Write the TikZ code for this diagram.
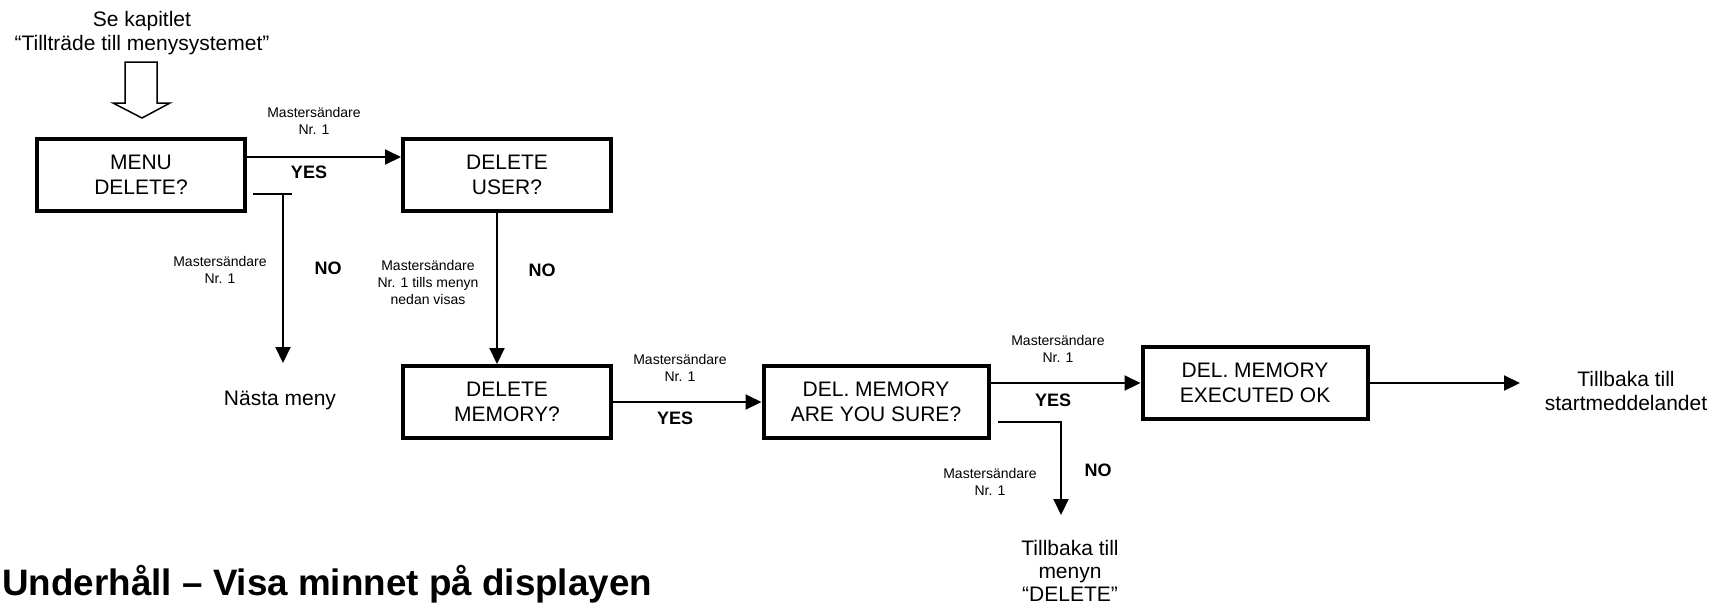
\documentclass[tikz,border=0pt]{standalone}
\usepackage{fontspec}
\setmainfont{Liberation Sans}
\usetikzlibrary{arrows.meta,positioning}

\begin{document}
\begin{tikzpicture}[x=0.5pt,y=-0.5pt]
    \tikzstyle{menu-box}=[rectangle, draw, line width=2pt, minimum width=104pt, minimum height=36pt, inner sep=0pt, align=center, font=\fontsize{10.5}{12.5}\selectfont]
    \tikzstyle{wide-box}=[menu-box, minimum width=112.5pt]
    \tikzstyle{fleche}=[-{Triangle[length=8pt,width=7.5pt]}, line width=1pt]
    \tikzstyle{master}=[align=center, font=\fontsize{7}{8.5}\selectfont]
    \tikzstyle{svar}=[font=\fontsize{9}{10}\selectfont\bfseries]
    \tikzstyle{info}=[align=center, font=\fontsize{10.5}{12}\selectfont]

    \useasboundingbox (0,0) rectangle (1711,607);

    \node[info] (kapitel) at (142,33) {Se kapitlet\\“Tillträde till menysystemet”};
    \draw[line width=0.75pt] (125,62) -- (157,62) -- (157,103) -- (170,103) -- (142,118) -- (113,103) -- (125,103) -- cycle;

    \node[menu-box] (menu-delete) at (141,175) {MENU\\DELETE?};
    \node[menu-box] (delete-user) at (507,175) {DELETE\\USER?};
    \node[menu-box] (delete-memory) at (507,402) {DELETE\\MEMORY?};
    \node[wide-box] (are-you-sure) at (876,402) {DEL. MEMORY\\ARE YOU SURE?};
    \node[wide-box] (executed-ok) at (1255,383) {DEL. MEMORY\\EXECUTED OK};

    \node[info] (nasta) at (280,400) {Nästa meny};
    \node[info] (tillbaka-start) at (1626,391) {Tillbaka till\\startmeddelandet};
    \node[info, font=\fontsize{10.5}{11.5}\selectfont] (tillbaka-meny) at (1070,571) {Tillbaka till\\menyn\\“DELETE”};
    \coordinate (nasta-hook) at (283,194);
    \coordinate (nasta-end) at (283,363);
    \coordinate (sure-no-end) at (1061,515);
    \coordinate (start-end) at (1520,383);

    \draw[fleche] ([yshift=9pt]menu-delete.east) -- ([yshift=9pt]delete-user.west);
    \draw[line width=1pt] ([xshift=3pt,yshift=-9.5pt]menu-delete.east) -- ++(19.5pt,0);
    \draw[fleche] (nasta-hook) -- (nasta-end);
    \draw[fleche] ([xshift=-5pt]delete-user.south) -- ([xshift=-5pt]delete-memory.north);
    \draw[fleche] (delete-memory.east) -- (are-you-sure.west);
    \draw[fleche] (are-you-sure.east |- executed-ok) -- (executed-ok.west);
    \draw[fleche] ([xshift=3.5pt,yshift=-10pt]are-you-sure.east) -| (sure-no-end);
    \draw[fleche] (executed-ok.east) -- (start-end);

    \node[master] (m-user) at (314,121) {Mastersändare\\Nr. 1};
    \node[svar] (yes-user) at (309,172) {YES};
    \node[master] (m-nasta) at (220,270) {Mastersändare\\Nr. 1};
    \node[svar] (no-nasta) at (328,268) {NO};
    \node[master] (m-memory) at (428,282) {Mastersändare\\Nr. 1 tills menyn\\nedan visas};
    \node[svar] (no-memory) at (542,270) {NO};
    \node[master] (m-sure) at (680,368) {Mastersändare\\Nr. 1};
    \node[svar] (yes-sure) at (675,418) {YES};
    \node[master] (m-executed) at (1058,349) {Mastersändare\\Nr. 1};
    \node[svar] (yes-executed) at (1053,400) {YES};
    \node[master] (m-back) at (990,482) {Mastersändare\\Nr. 1};
    \node[svar] (no-back) at (1098,470) {NO};

    \node[anchor=base west, inner sep=0pt, font=\fontsize{18.4}{20}\selectfont\bfseries] (rubrik) at (2,595) {Underhåll – Visa minnet på displayen};
\end{tikzpicture}
\end{document}
